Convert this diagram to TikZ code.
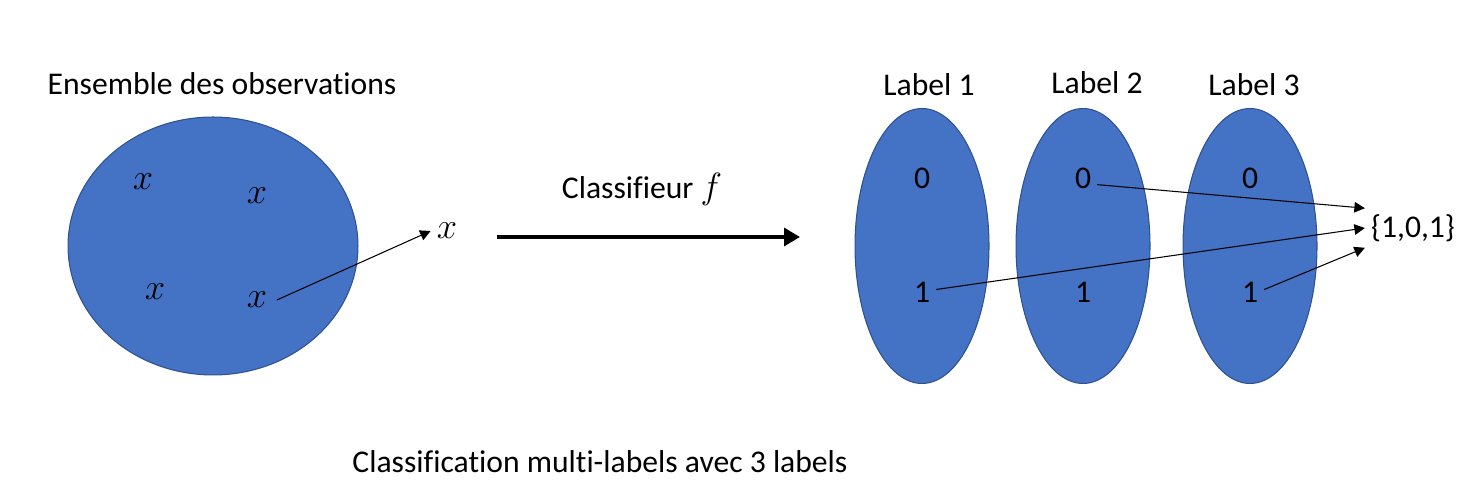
\documentclass[tikz,border=0pt]{standalone}
\usepackage{amsmath}
\usepackage{xcolor}
\usepackage{fontspec}
\setmainfont{Carlito}[Ligatures=NoCommon]
\usepackage{tikz}
\usetikzlibrary{positioning,shapes.geometric,arrows.meta}
\definecolor{blobfill}{HTML}{4472C4}
\definecolor{blobline}{HTML}{2F528F}
\newcommand{\varx}{{\fontsize{21}{24}\selectfont$x$}}
\tikzset{
  blob/.style={ellipse, draw=blobline, fill=blobfill, line width=0.6pt, inner sep=0pt},
  fleche/.style={-{Triangle[length=6pt,width=6pt]}, line width=0.6pt},
  grosse/.style={-{Triangle[length=9pt,width=10pt]}, line width=2.8pt},
}

\begin{document}
\begin{tikzpicture}[x=0.02cm, y=-0.02cm,
    every node/.style={font=\fontsize{18}{22}\selectfont}]
  \useasboundingbox (0,0) rectangle (1466,492);

  % ensemble des observations
  \node[anchor=base] (titreobs) at (222,95) {Ensemble des observations};
  \node[blob, minimum width=5.8cm, minimum height=5.16cm] (obs) at (213,246) {};
  \node (x1) at (143,182) {\varx};
  \node (x2) at (257,196) {\varx};
  \node (x3) at (155,292) {\varx};
  \node (x4) at (257,300) {\varx};
  \node (xout) at (447,231) {\varx};
  \draw[fleche] ([xshift=2pt]x4.east) -- (xout.west);

  % classifieur
  \coordinate (a0) at (497,237);
  \coordinate (a1) at (800,237);
  \draw[grosse] (a0) -- (a1);
  \node[anchor=base] (clf) at (642,199) {Classifieur {\fontsize{21}{24}\selectfont$f$}};

  % les trois labels
  \foreach \i/\cx/\tx/\ty in {1/922/929/96, 2/1083/1097/94, 3/1250/1254/96} {
    \node[anchor=base] (titre\i) at (\tx,\ty) {Label \i};
    \node[blob, minimum width=2.68cm, minimum height=5.5cm] (lab\i) at (\cx,246) {};
    \node (z\i) at (\cx,178) {0};
    \node (o\i) at (\cx,292) {1};
  }

  \node (res) at (1413,228) {\{1,0,1\}};
  \draw[fleche] (z2.-25) -- (res.north west);
  \draw[fleche] (o1.10) -- (res.west);
  \draw[fleche] (o3.10) -- (res.south west);

  \node[anchor=base] (legende) at (600,473) {Classification multi-labels avec 3 labels};
\end{tikzpicture}
\end{document}
